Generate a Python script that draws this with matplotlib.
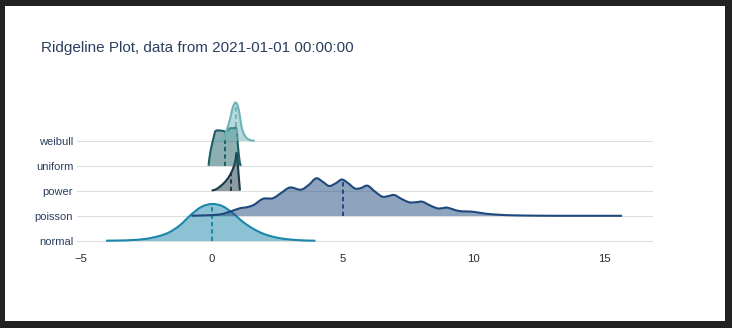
"""Ridgeline plot of five sample distributions, each drawn as a filled density ridge."""

import matplotlib.pyplot as plt
import numpy as np
from matplotlib.patches import PathPatch, Rectangle
from matplotlib.path import Path

OUTPUT_PATH = "out.png"
TITLE = "Ridgeline Plot, data from 2021-01-01 00:00:00"

CATEGORIES = ["normal", "poisson", "power", "uniform", "weibull"]
COLORS = ["#1b87ab", "#1f497d", "#1b3947", "#1c6064", "#6fb3b6"]
MEANS = [0.0, 5.0, 0.75, 0.5, 0.92]
X_TICKS = [-5, 0, 5, 10, 15]

# density outlines, heights in pixels of a 25 px row
NORMAL_X = [-4.03, -3.5, -3.0, -2.5, -2.0, -1.6, -1.2, -0.8, -0.4, 0.0,
            0.4, 0.8, 1.2, 1.6, 2.0, 2.5, 3.0, 3.5, 3.96]
NORMAL_H = [0.3, 0.5, 1.0, 2.2, 5.0, 9.0, 16.0, 26.0, 34.0, 37.0,
            35.0, 28.0, 19.0, 12.0, 7.0, 3.3, 1.5, 0.6, 0.3]

POISSON_X = [-0.77, -0.3, 0.3, 0.69, 1.07, 1.32, 1.6, 1.96, 2.33, 2.65,
             2.99, 3.4, 3.7, 3.99, 4.25, 4.49, 4.75, 4.97, 5.2, 5.47,
             5.7, 5.95, 6.25, 6.52, 6.75, 6.97, 7.25, 7.54, 7.8, 8.04,
             8.3, 8.6, 8.8, 9.0, 9.44, 9.95, 10.46, 11.0, 11.47, 12.5,
             14.0, 15.66]
POISSON_H = [0.3, 0.6, 1.5, 4.3, 7.7, 8.7, 11.0, 17.2, 17.7, 23.0,
             28.5, 26.3, 31.0, 37.7, 34.0, 30.0, 33.0, 36.5, 33.0, 27.5,
             28.0, 30.3, 24.0, 19.3, 20.0, 21.0, 17.0, 13.7, 13.8, 14.3,
             11.0, 7.7, 7.8, 8.3, 5.0, 4.3, 2.3, 1.2, 0.7, 0.3,
             0.2, 0.2]

POWER_X = [0.0, 0.15, 0.31, 0.45, 0.57, 0.7, 0.82, 0.9, 0.96, 1.02, 1.08]
POWER_H = [0.5, 1.5, 4.3, 7.5, 11.0, 16.0, 22.7, 30.0, 38.0, 19.0, 0.5]

UNIFORM_X = [-0.12, -0.05, 0.08, 0.15, 0.3, 0.45, 0.56, 0.69, 0.85, 0.94,
             1.0, 1.07, 1.12]
UNIFORM_H = [0.3, 14.0, 29.0, 35.0, 35.5, 35.0, 34.3, 37.5, 37.8, 37.5,
             21.0, 4.3, 0.3]

WEIBULL_X = [0.15, 0.35, 0.5, 0.6, 0.7, 0.78, 0.85, 0.92, 1.0, 1.07,
             1.13, 1.2, 1.3, 1.4, 1.5, 1.64]
WEIBULL_H = [0.3, 2.0, 6.0, 13.0, 22.0, 31.0, 36.5, 38.5, 35.0, 26.0,
             16.0, 9.0, 4.0, 1.8, 0.7, 0.2]

RIDGES = [
    (NORMAL_X, NORMAL_H),
    (POISSON_X, POISSON_H),
    (POWER_X, POWER_H),
    (UNIFORM_X, UNIFORM_H),
    (WEIBULL_X, WEIBULL_H),
]
ROW_PX = 25.0

W, H = 732, 328


def spline_path(xs, ys, base=None):
    """Catmull-Rom outline through the points as cubic Bezier segments."""
    pts = np.column_stack([xs, ys])
    n = len(pts)
    verts = [pts[0]]
    codes = [Path.MOVETO]
    for k in range(n - 1):
        p0 = pts[max(k - 1, 0)]
        p1, p2 = pts[k], pts[k + 1]
        p3 = pts[min(k + 2, n - 1)]
        verts += [p1 + (p2 - p0) / 6, p2 - (p3 - p1) / 6, p2]
        codes += [Path.CURVE4] * 3
    if base is not None:
        verts += [(xs[-1], base), (xs[0], base), pts[0]]
        codes += [Path.LINETO, Path.LINETO, Path.CLOSEPOLY]
    return Path(verts, codes)


def main() -> int:
    plt.rcParams["font.family"] = ["Liberation Sans", "DejaVu Sans"]
    fig = plt.figure(figsize=(W / 100, H / 100), dpi=100, facecolor="#222222")
    fig.patches.append(Rectangle((5 / W, 1 - 321 / H), 720 / W, 315 / H,
                                 transform=fig.transFigure, facecolor="white",
                                 edgecolor="none", zorder=-1))

    left, right, top, bottom = 76.7, 652.7, 95.0, 248.0
    ax = fig.add_axes([left / W, 1 - bottom / H, (right - left) / W, (bottom - top) / H])
    ax.set_zorder(2)
    ax.set_facecolor("none")

    for i, ((xs, hs), color, mean) in enumerate(zip(RIDGES, COLORS, MEANS)):
        xs = np.asarray(xs)
        ys = i + np.asarray(hs) / ROW_PX
        z = 3 + i
        ax.add_patch(PathPatch(spline_path(xs, ys, base=i), facecolor=color,
                               alpha=0.5, linewidth=0, zorder=z))
        ax.add_patch(PathPatch(spline_path(xs, ys), facecolor="none", edgecolor=color,
                               linewidth=1.5, joinstyle="round", zorder=z + 0.1))
        top_at_mean = np.interp(mean, xs, ys)
        ax.plot([mean, mean], [i, top_at_mean], color=color, linewidth=1.4,
                linestyle=(0, (2.2, 1.6)), zorder=z + 0.2)

    ax.set_xlim(-5.15, 16.83)
    ax.set_ylim(-(bottom - 241) / ROW_PX, (241 - top) / ROW_PX)
    ax.set_xticks(X_TICKS)
    ax.set_xticklabels([str(t).replace("-", "\u2212") for t in X_TICKS])
    ax.set_yticks(range(len(CATEGORIES)))
    ax.set_yticklabels(CATEGORIES)
    ax.tick_params(axis="x", length=0, pad=4.5, labelsize=8.2, labelcolor="#2a2a2a")
    ax.tick_params(axis="y", length=0, pad=2.5, labelsize=8.0, labelcolor="#2a3f5f")
    ax.grid(axis="y", color="#dedede", linewidth=0.8)
    ax.grid(axis="x", visible=False)
    ax.set_axisbelow(True)
    for spine in ax.spines.values():
        spine.set_visible(False)

    fig.text(41 / W, 1 - 52 / H, TITLE, fontsize=11.0, color="#2a3f5f",
             ha="left", va="baseline", zorder=3)

    fig.savefig(OUTPUT_PATH, dpi=100, facecolor=fig.get_facecolor())
    plt.close(fig)
    return 0


if __name__ == "__main__":
    raise SystemExit(main())
